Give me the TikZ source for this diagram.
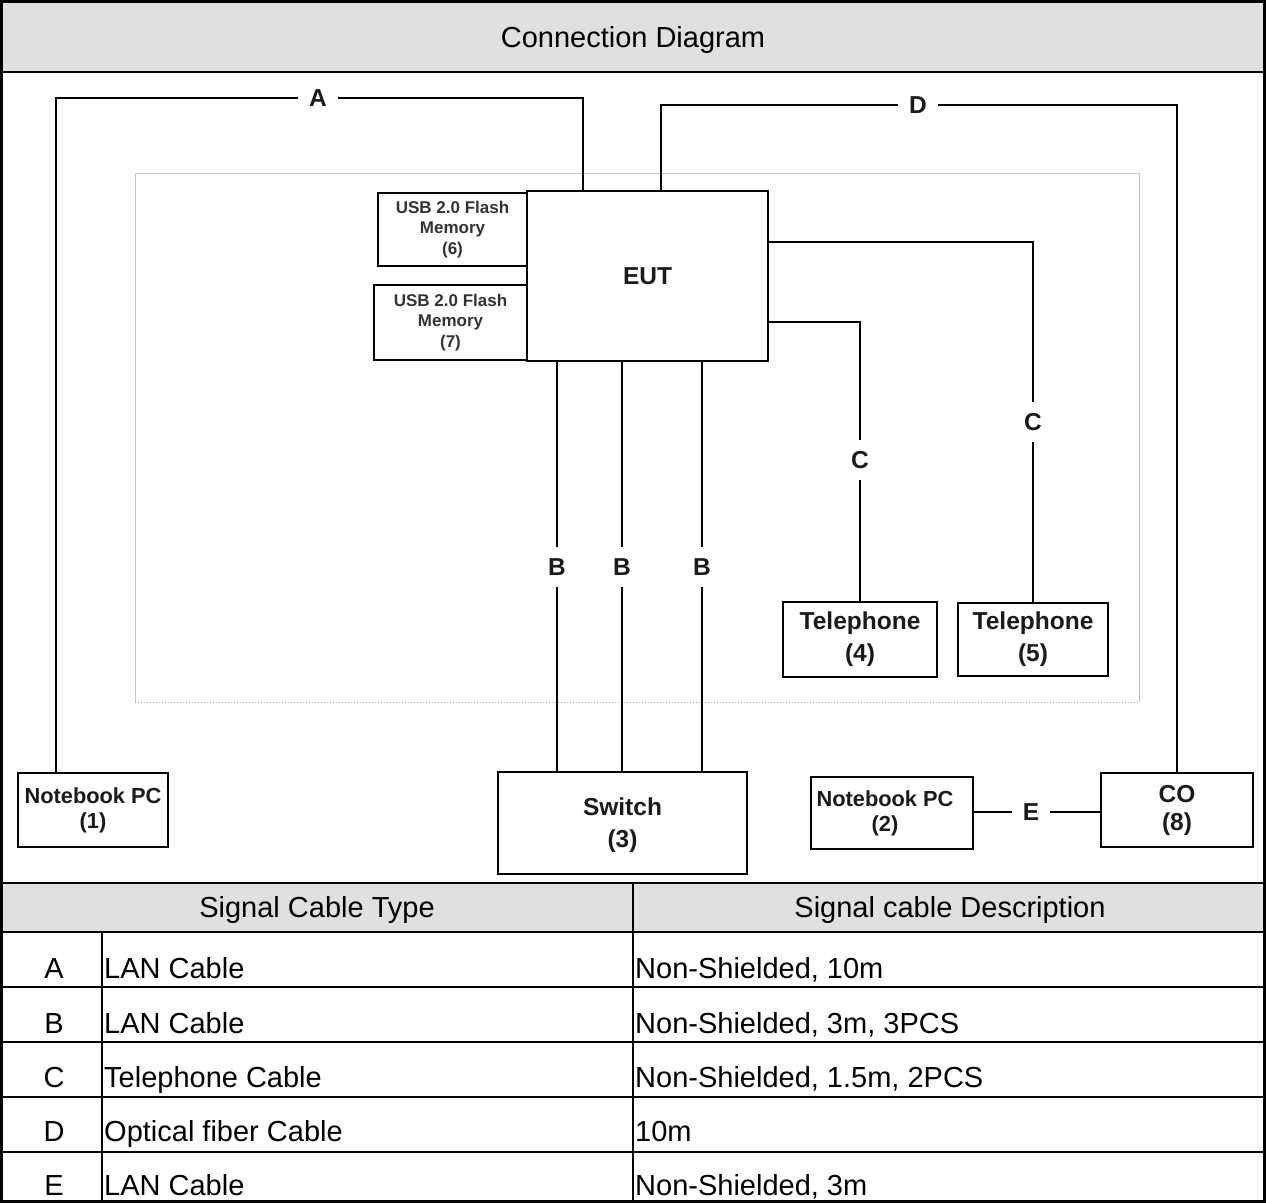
\documentclass[tikz,border=0pt]{standalone}
\usepackage{fontspec}
\setmainfont{Liberation Sans}
\definecolor{band}{HTML}{E0E0E0}
\definecolor{ink}{HTML}{1A1A1A}
\newcommand{\tblfont}{\fontsize{29}{34}\selectfont}
\newcommand{\devfont}{\fontsize{24.5}{32}\selectfont\bfseries}
\newcommand{\pcfont}{\fontsize{21.8}{25}\selectfont\bfseries}
\newcommand{\cofont}{\fontsize{24.5}{28}\selectfont\bfseries}
\newcommand{\usbfont}{\fontsize{17}{20.5}\selectfont\bfseries}
\begin{document}
\begin{tikzpicture}[x=1pt,y=-1pt,
  devbox/.style={draw=black, line width=2.8pt, fill=white, inner sep=0pt,
    outer sep=0pt, align=center, text=ink, anchor=north west},
  wire/.style={line width=2.6pt},
  cablelab/.style={font=\devfont, text=ink, inner sep=11pt},
  tline/.style={line width=2.6pt},
  cell/.style={font=\tblfont, inner sep=0pt, anchor=base}]
\useasboundingbox (0,0) rectangle (1266,1203);

% ---- frame, title band, table header band ----
\fill[band] (0,0) rectangle (1266,72);
\fill[band] (0,883) rectangle (1266,932);
\node[cell] (title) at (633,47) {Connection Diagram};

% ---- test area outline ----
\draw[gray!45, line width=1pt] (135,702) -- (135,173) -- (1139,173) -- (1139,702);
\draw[gray!70, line width=1pt, dotted] (135,702) -- (1139,702);

% ---- equipment ----
\node[devbox, minimum width=241pt, minimum height=170pt, font=\devfont] (eut) at (527,191) {EUT};
\node[devbox, minimum width=149pt, minimum height=73pt, font=\usbfont, text=black!80] (usb6) at (378,193) {USB 2.0 Flash\\Memory\\(6)};
\node[devbox, minimum width=153pt, minimum height=75pt, font=\usbfont, text=black!80] (usb7) at (374,285) {USB 2.0 Flash\\Memory\\(7)};
\draw[line width=2.8pt] (eut.north west) -- (eut.south west);
\node[devbox, minimum width=154pt, minimum height=75pt, font=\devfont] (tel4) at (783,602) {Telephone\\(4)};
\node[devbox, minimum width=150pt, minimum height=73pt, font=\devfont] (tel5) at (958,603) {Telephone\\(5)};
\node[devbox, minimum width=249pt, minimum height=102pt, font=\devfont, text depth=0pt] (sw) at (498,772) {Switch\\(3)};
\node[devbox, minimum width=150pt, minimum height=74pt, font=\pcfont] (nb1) at (18,773) {Notebook PC\\(1)};
\node[devbox, minimum width=162pt, minimum height=72pt] (nb2) at (811,777) {};
\node[font=\pcfont, align=center, text=ink, inner sep=0pt] (nb2txt) at ([xshift=-7pt]nb2.center) {Notebook PC\\(2)};
\node[devbox, minimum width=152pt, minimum height=74pt, font=\cofont] (co) at (1101,773) {CO\\(8)};

% ---- cable labels ----
\node[cablelab] (labA) at (318,98) {A};
\node[cablelab] (labD) at (918,105) {D};
\node[cablelab] (labB1) at (557,567) {B};
\node[cablelab] (labB2) at (622,567) {B};
\node[cablelab] (labB3) at (702,567) {B};
\node[cablelab] (labC4) at (860,460) {C};
\node[cablelab] (labC5) at (1033,422) {C};
\node[cablelab] (labE) at (1031,812) {E};

% ---- cables ----
\draw[wire] ([xshift=38pt]nb1.north west) |- (labA.west);
\draw[wire] (labA.east) -| ([xshift=56pt]eut.north west);
\draw[wire] ([xshift=134pt]eut.north west) |- (labD.west);
\draw[wire] (labD.east) -| (co.north);
\draw[wire] ([yshift=-51pt]eut.north east) -| (labC5.north);
\draw[wire] (labC5.south) -- (labC5.south |- tel5.north);
\draw[wire] ([yshift=-131pt]eut.north east) -| (labC4.north);
\draw[wire] (labC4.south) -- (labC4.south |- tel4.north);
\foreach \b in {1,2,3}{
  \draw[wire] (labB\b.north |- eut.south) -- (labB\b.north);
  \draw[wire] (labB\b.south) -- (labB\b.south |- sw.north);
}
\draw[wire] (nb2.east |- labE.west) -- (labE.west);
\draw[wire] (labE.east) -- (labE.east -| co.west);

% ---- cable table ----
\node[cell] (hType) at (317,917) {Signal Cable Type};
\node[cell] (hDesc) at (950,917) {Signal cable Description};
\foreach \k/\t/\d/\y in {A/LAN Cable/{Non-Shielded, 10m}/978,
                         B/LAN Cable/{Non-Shielded, 3m, 3PCS}/1033,
                         C/Telephone Cable/{Non-Shielded, 1.5m, 2PCS}/1087,
                         D/Optical fiber Cable/10m/1141,
                         E/LAN Cable/{Non-Shielded, 3m}/1195}{
  \node[cell] (key\k) at (54,\y) {\k};
  \node[cell, anchor=base west] (type\k) at (104,\y) {\t};
  \node[cell, anchor=base west] (desc\k) at (635,\y) {\d};
}
\foreach \y in {72,883,932,987,1042,1097,1152}
  \draw[tline] (0,\y) -- (1266,\y);
\draw[tline] (633,883) -- (633,1203);
\draw[tline] (102,932) -- (102,1203);
\draw[line width=3pt] (1.5,1.5) rectangle (1264.5,1201.5);
\end{tikzpicture}
\end{document}
